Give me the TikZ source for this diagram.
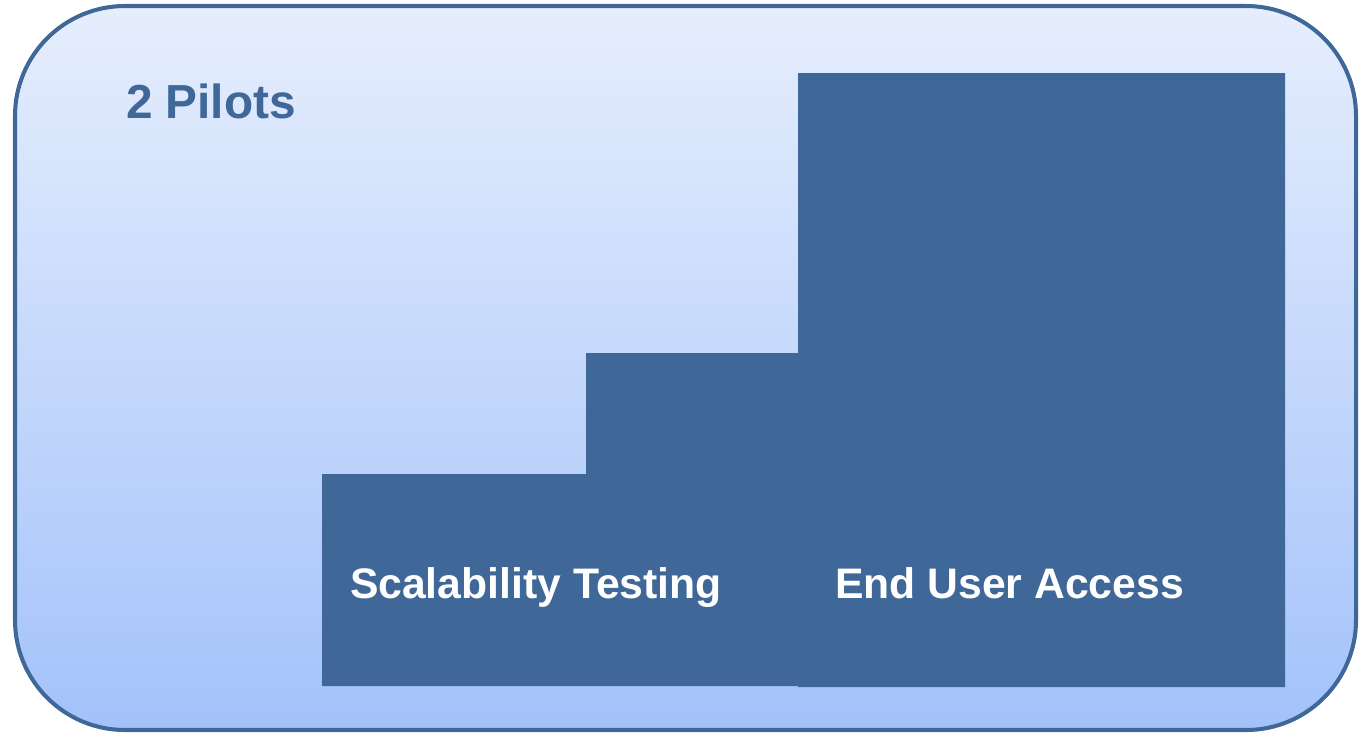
\documentclass[tikz,border=0pt]{standalone}
\usepackage{fontspec}
\setmainfont{Liberation Sans}
\definecolor{stepblue}{HTML}{3F6797}
\definecolor{paneltop}{HTML}{E6EEFD}
\definecolor{panelbot}{HTML}{A3C2FA}

\begin{document}
\begin{tikzpicture}[x=0.02cm,y=-0.02cm,line width=2.3pt]
\tikzset{
  steplabel/.style={anchor=base west,inner sep=0pt,text=white,font=\bfseries\fontsize{24.3}{28}\selectfont},
}
\useasboundingbox (0,0) rectangle (1361,735);
% ---------- rounded panel with vertical shading ----------
\shade[top color=paneltop,bottom color=panelbot,rounded corners=2.2cm] (15,6) rectangle (1356,730);
\draw[stepblue,rounded corners=2.2cm] (15,6) rectangle (1356,730);
\node[anchor=base west,inner sep=0pt,text=stepblue,font=\bfseries\fontsize{27.2}{31}\selectfont] (title) at (124,118) {2 Pilots};
% ---------- the staircase ----------
\fill[stepblue] (322,686) -- (322,474) -- (586,474) -- (586,353) -- (798,353)
  -- (798,73) -- (1285,73) -- (1285,687) -- (798,687) -- (798,686) -- cycle;
\node[steplabel] (scal) at (348,598) {Scalability Testing};
\node[steplabel] (access) at (833,598) {End User Access};
\end{tikzpicture}
\end{document}
